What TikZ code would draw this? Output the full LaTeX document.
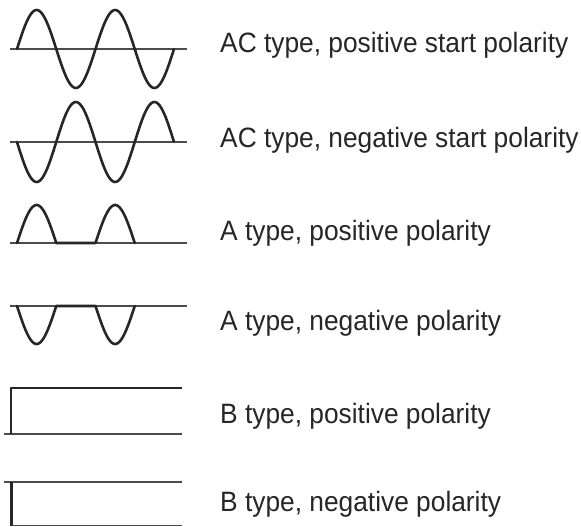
\documentclass[tikz,border=0pt]{standalone}
\usepackage{fontspec}
\setmainfont{Liberation Sans}
\begin{document}
\begin{tikzpicture}[x=1pt,y=-1pt,
  wave/.style={line width=2.6pt, color=black!85, line join=round, line cap=round},
  axisline/.style={line width=1.6pt, color=black!70},
  lbl/.style={anchor=base west, inner sep=0pt, text=black!85, font=\fontsize{28}{30}\selectfont}]
\useasboundingbox (0,0) rectangle (581,527);
% AC positive start
\draw[axisline] (10,49) -- (187,49);
\draw[wave] plot[domain=0:2, samples=120] ({17+78.5*\x},{49-39*sin(360*\x)});
% AC negative start
\draw[axisline] (10,142) -- (187,142);
\draw[wave] plot[domain=0:2, samples=120] ({17+78.5*\x},{142+40*sin(360*\x)});
% A positive
\draw[axisline] (10,243) -- (187,243);
\draw[wave] plot[domain=0:0.5, samples=40] ({17+78.5*\x},{243-38*sin(360*\x)})
  -- plot[domain=1:1.5, samples=40] ({17+78.5*\x},{243-38*sin(360*\x)});
% A negative
\draw[axisline] (10,306) -- (187,306);
\draw[wave] plot[domain=0:0.5, samples=40] ({17+78.5*\x},{306+38*sin(360*\x)})
  -- plot[domain=1:1.5, samples=40] ({17+78.5*\x},{306+38*sin(360*\x)});
% B positive
\draw[axisline] (4,434) -- (182,434);
\draw[wave, line cap=butt] (11,434) -- (11,388) -- (182,388);
% B negative
\draw[axisline] (4,482) -- (182,482);
\draw[wave, line cap=butt] (11.5,482) -- (11.5,525.5);
\draw[axisline] (11.5,525.5) -- (182,525.5);
% labels
\node[lbl] (l1) at (220,53) {\scalebox{0.94}[1]{AC type, positive start polarity}};
\node[lbl] (l2) at (220,147) {\scalebox{0.94}[1]{AC type, negative start polarity}};
\node[lbl] (l3) at (220,240) {\scalebox{0.94}[1]{A type, positive polarity}};
\node[lbl] (l4) at (220,330) {\scalebox{0.94}[1]{A type, negative polarity}};
\node[lbl] (l5) at (220,423) {\scalebox{0.94}[1]{B type, positive polarity}};
\node[lbl] (l6) at (220,511) {\scalebox{0.94}[1]{B type, negative polarity}};
\end{tikzpicture}
\end{document}
